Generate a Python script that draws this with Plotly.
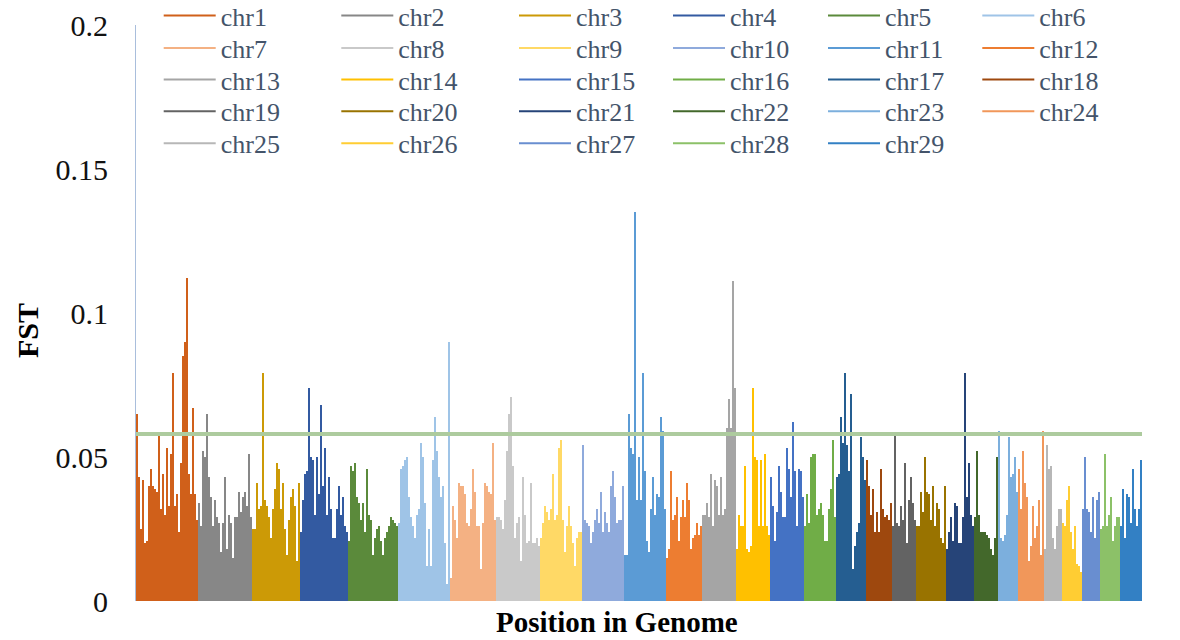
import plotly.graph_objects as go

# Chromosome names and series colours
CHROMS = [f"chr{i}" for i in range(1, 30)]
COLORS = [
    "#D0601A", "#878787", "#CC9A06", "#335AA1", "#5B8A3B", "#9FC4E7",
    "#F4B183", "#C9C9C9", "#FFD966", "#8FAADC", "#5B9BD5", "#ED7D31",
    "#A5A5A5", "#FFC000", "#4472C4", "#70AD47", "#255E91", "#9E480E",
    "#636363", "#997300", "#264478", "#43682B", "#7CAFDD", "#F1975A",
    "#B7B7B7", "#FFCD33", "#698ED0", "#8CC168", "#3380C4",
]

# FST per window, in genome order, one list per chromosome
chr1 = [0.065, 0.043, 0.025, 0.042, 0.020, 0.021, 0.040, 0.046, 0.040, 0.039,
        0.038, 0.058, 0.032, 0.044, 0.030, 0.053, 0.033, 0.051, 0.079, 0.033,
        0.037, 0.024, 0.048, 0.085, 0.090, 0.112, 0.044, 0.037, 0.067, 0.037,
        0.028]
chr2 = [0.034, 0.026, 0.052, 0.050, 0.065, 0.043, 0.036, 0.026, 0.035, 0.029,
        0.027, 0.017, 0.027, 0.043, 0.018, 0.030, 0.027, 0.015, 0.029, 0.029,
        0.038, 0.031, 0.036, 0.038, 0.033, 0.051, 0.029]
chr3 = [0.025, 0.025, 0.041, 0.032, 0.033, 0.079, 0.035, 0.033, 0.029, 0.022,
        0.032, 0.039, 0.048, 0.046, 0.032, 0.041, 0.025, 0.016, 0.028, 0.036,
        0.039, 0.033, 0.014, 0.041]
chr4 = [0.024, 0.035, 0.044, 0.045, 0.074, 0.050, 0.049, 0.030, 0.050, 0.037,
        0.068, 0.040, 0.053, 0.030, 0.043, 0.032, 0.022, 0.022, 0.032, 0.040,
        0.030, 0.036, 0.026, 0.024]
chr5 = [0.021, 0.047, 0.045, 0.048, 0.036, 0.034, 0.028, 0.034, 0.024, 0.046,
        0.030, 0.028, 0.016, 0.022, 0.025, 0.026, 0.021, 0.016, 0.022, 0.024,
        0.026, 0.029, 0.028, 0.027, 0.026]
chr6 = [0.027, 0.046, 0.047, 0.049, 0.050, 0.036, 0.029, 0.026, 0.022, 0.030,
        0.032, 0.055, 0.050, 0.034, 0.012, 0.025, 0.012, 0.049, 0.064, 0.052,
        0.043, 0.036, 0.040, 0.020, 0.006, 0.090]
chr7 = [0.008, 0.033, 0.028, 0.022, 0.041, 0.040, 0.040, 0.037, 0.027, 0.026,
        0.032, 0.046, 0.038, 0.026, 0.026, 0.011, 0.027, 0.041, 0.040, 0.038,
        0.037, 0.055, 0.028]
chr8 = [0.029, 0.029, 0.028, 0.025, 0.035, 0.052, 0.065, 0.071, 0.047, 0.022,
        0.027, 0.029, 0.014, 0.043, 0.030, 0.020, 0.021, 0.041, 0.020, 0.020,
        0.022, 0.019]
chr9 = [0.022, 0.027, 0.033, 0.031, 0.028, 0.032, 0.044, 0.028, 0.030, 0.053,
        0.056, 0.028, 0.017, 0.026, 0.033, 0.026, 0.020, 0.012, 0.022, 0.024,
        0.024]
chr10 = [0.054, 0.028, 0.027, 0.026, 0.020, 0.024, 0.028, 0.032, 0.027, 0.038,
         0.024, 0.031, 0.027, 0.024, 0.040, 0.045, 0.036, 0.027, 0.028, 0.028,
         0.040]
chr11 = [0.016, 0.016, 0.065, 0.053, 0.051, 0.135, 0.035, 0.050, 0.035, 0.079,
         0.045, 0.021, 0.017, 0.032, 0.043, 0.030, 0.037, 0.036, 0.064, 0.059,
         0.032]
chr12 = [0.015, 0.018, 0.045, 0.028, 0.030, 0.036, 0.021, 0.029, 0.035, 0.029,
         0.041, 0.035, 0.018, 0.022, 0.023, 0.027, 0.023, 0.026]
chr13 = [0.030, 0.030, 0.034, 0.029, 0.044, 0.026, 0.042, 0.040, 0.030, 0.043,
         0.030, 0.032, 0.060, 0.070, 0.060, 0.111, 0.074]
chr14 = [0.018, 0.030, 0.026, 0.026, 0.047, 0.018, 0.017, 0.019, 0.074, 0.050,
         0.049, 0.026, 0.049, 0.026, 0.051, 0.026, 0.023]
chr15 = [0.043, 0.033, 0.021, 0.031, 0.047, 0.038, 0.029, 0.029, 0.053, 0.046,
         0.036, 0.062, 0.045, 0.026, 0.046, 0.045, 0.036]
chr16 = [0.026, 0.037, 0.027, 0.050, 0.051, 0.051, 0.030, 0.032, 0.034, 0.030,
         0.021, 0.021, 0.032, 0.039, 0.056, 0.029]
chr17 = [0.043, 0.044, 0.064, 0.055, 0.079, 0.054, 0.045, 0.072, 0.011, 0.019,
         0.024, 0.027, 0.057, 0.050, 0.042]
chr18 = [0.049, 0.040, 0.030, 0.039, 0.024, 0.031, 0.024, 0.046, 0.032, 0.029,
         0.030, 0.028, 0.034]
chr19 = [0.026, 0.058, 0.027, 0.026, 0.033, 0.028, 0.048, 0.020, 0.035, 0.043,
         0.034, 0.028]
chr20 = [0.026, 0.026, 0.038, 0.031, 0.050, 0.038, 0.037, 0.028, 0.040, 0.026,
         0.034, 0.032, 0.022, 0.020, 0.040]
chr21 = [0.018, 0.024, 0.029, 0.021, 0.034, 0.033, 0.020, 0.020, 0.029, 0.079,
         0.036, 0.048, 0.030, 0.026]
chr22 = [0.029, 0.052, 0.030, 0.024, 0.024, 0.024, 0.023, 0.022, 0.018, 0.016,
         0.022, 0.050]
chr23 = [0.059, 0.022, 0.021, 0.023, 0.030, 0.057, 0.043, 0.044, 0.050, 0.038]
chr24 = [0.046, 0.032, 0.052, 0.041, 0.036, 0.014, 0.019, 0.033, 0.022, 0.026,
         0.035, 0.016, 0.059]
chr25 = [0.018, 0.054, 0.046, 0.047, 0.022, 0.018, 0.026, 0.032, 0.032]
chr26 = [0.027, 0.026, 0.035, 0.040, 0.024, 0.018, 0.026, 0.013, 0.012, 0.010]
chr27 = [0.032, 0.050, 0.032, 0.031, 0.024, 0.036, 0.022, 0.035, 0.038]
chr28 = [0.025, 0.026, 0.051, 0.026, 0.030, 0.036, 0.021, 0.026, 0.029, 0.029]
chr29 = [0.026, 0.039, 0.022, 0.037, 0.036, 0.027, 0.046, 0.032, 0.026, 0.032,
         0.049]

FST_BY_CHROM = [chr1, chr2, chr3, chr4, chr5, chr6, chr7, chr8, chr9, chr10,
                chr11, chr12, chr13, chr14, chr15, chr16, chr17, chr18, chr19,
                chr20, chr21, chr22, chr23, chr24, chr25, chr26, chr27, chr28,
                chr29]

# Significance threshold
THRESHOLD = 0.058

# Y axis ticks
Y_TICKS = [0, 0.05, 0.1, 0.15, 0.2]
Y_TICK_LABELS = ["0", "0.05", "0.1", "0.15", "0.2"]

SERIF = "Liberation Serif, Times New Roman, serif"
W, H = 1180, 640
L, R, T, B = 136, 38, 25, 39

# Legend grid: 6 columns x 5 rows, laid out row by row
LEG_TEXT_X = [220.7, 398.3, 576, 730, 885, 1039.3]
LEG_ROW_Y = [15.7, 48, 79.7, 111.3, 143.3]
LEG_ITEM_W = 52

fig = go.Figure()
legends = {}
start = 0
for i, (name, vals, color) in enumerate(zip(CHROMS, FST_BY_CHROM, COLORS)):
    xs = list(range(start, start + len(vals)))
    start += len(vals)
    lg = "legend" if i == 0 else f"legend{i + 1}"
    # dense FST profile of the chromosome
    fig.add_trace(go.Bar(
        x=xs, y=vals, width=1, name=name, legendgroup=name, showlegend=False,
        marker=dict(color=color, line=dict(width=0)), hoverinfo="skip",
    ))
    # legend key for the chromosome (line style, no points of its own)
    fig.add_trace(go.Scatter(
        x=[None], y=[None], mode="lines", name=name, legendgroup=name,
        legend=lg, line=dict(color=color, width=2),
    ))
    row, col = divmod(i, 6)
    legends[lg] = dict(
        x=(LEG_TEXT_X[col] - LEG_ITEM_W - 10) / W,
        y=1 - LEG_ROW_Y[row] / H,
        xref="container", yref="container",
        xanchor="left", yanchor="middle",
        orientation="v", itemwidth=LEG_ITEM_W,
        bgcolor="rgba(0,0,0,0)", borderwidth=0,
        font=dict(family=SERIF, size=26, color="#44546A"),
    )

fig.add_hline(y=THRESHOLD, line=dict(color="#ADCB9E", width=4))

fig.update_layout(
    width=W, height=H,
    margin=dict(l=L, r=R, t=T, b=B, autoexpand=False),
    paper_bgcolor="white", plot_bgcolor="white",
    barmode="overlay", bargap=0,
    xaxis=dict(range=[-0.5, start - 0.5], showticklabels=False, ticks="",
               showgrid=False, zeroline=False, showline=False),
    yaxis=dict(range=[0, 0.2], tickvals=Y_TICKS, ticktext=Y_TICK_LABELS,
               tickfont=dict(family=SERIF, size=30, color="#111111"),
               ticks="", ticklabelstandoff=21,
               showgrid=False, zeroline=False,
               showline=True, linecolor="#A9BEDC", linewidth=1,
               layer="below traces"),
    annotations=[
        dict(text="<b>FST</b>", textangle=-90, showarrow=False,
             xref="paper", yref="paper",
             x=(27 - L) / (W - L - R), y=(H - B - 331) / (H - T - B),
             xanchor="center", yanchor="middle",
             font=dict(family=SERIF, size=30, color="#000000")),
        dict(text="<b>Position in Genome</b>", showarrow=False,
             xref="paper", yref="paper",
             x=(617 - L) / (W - L - R), y=(H - B - 622) / (H - T - B),
             xanchor="center", yanchor="middle",
             font=dict(family=SERIF, size=29, color="#000000")),
    ],
    **legends,
)

fig.write_html("out.html")
